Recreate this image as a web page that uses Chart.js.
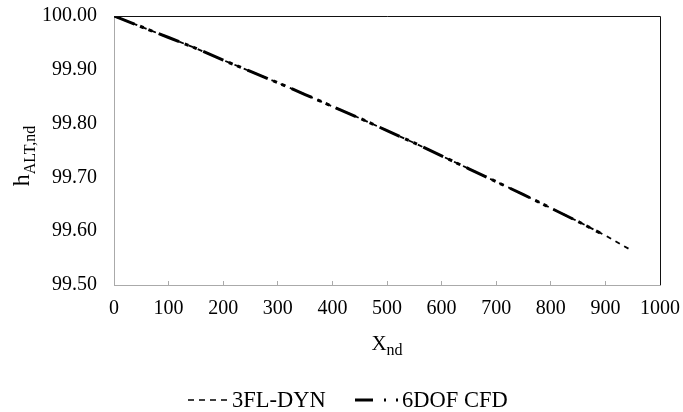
<!DOCTYPE html>
<html>
<head>
<meta charset="utf-8">
<script src="https://cdn.jsdelivr.net/npm/chart.js@4"></script>
<style>
  html, body { margin: 0; padding: 0; background: #fff; overflow: hidden; }
  canvas { display: block; }
</style>
</head>
<body>
<canvas id="chart" width="683" height="412"></canvas>
<script>
// values
const xDyn = [0, 50, 100, 150, 200, 250, 300, 350, 400, 450, 500, 550, 600, 650, 700, 750, 800, 850, 900, 945];
const hDyn = [100.000, 99.980, 99.960, 99.940, 99.918, 99.897, 99.876, 99.854, 99.832, 99.810,
              99.787, 99.764, 99.740, 99.716, 99.692, 99.668, 99.643, 99.618, 99.592, 99.566];
const xCfd = [0, 50, 100, 150, 200, 250, 300, 350, 400, 450, 500, 550, 600, 650, 700, 750, 800, 850, 890];
const hCfd = [100.000, 99.980, 99.960, 99.940, 99.918, 99.897, 99.876, 99.854, 99.832, 99.810,
              99.787, 99.764, 99.740, 99.716, 99.692, 99.668, 99.643, 99.618, 99.597];
const seriesNames = ['3FL-DYN', '6DOF CFD'];

const FONT = '"Liberation Serif", "Times New Roman", serif';
const dashDyn = [5, 5];
const dashCfd = [22, 6, 4, 5, 4, 7];

const toPoints = (xs, ys) => xs.map((x, i) => ({ x: x, y: ys[i] }));

// axis titles with subscripts, legend and frame, drawn on the canvas
const extras = {
  id: 'extras',
  afterDraw(chart) {
    const ctx = chart.ctx;
    const area = chart.chartArea;
    ctx.save();
    ctx.fillStyle = '#000';
    ctx.textBaseline = 'alphabetic';
    ctx.textAlign = 'left';

    // x title
    const cx = (area.left + area.right) / 2;
    ctx.font = '21px ' + FONT;
    const wX = ctx.measureText('X').width;
    ctx.font = '16px ' + FONT;
    const wNd = ctx.measureText('nd').width;
    let sx = cx - (wX + wNd) / 2;
    ctx.font = '21px ' + FONT;
    ctx.fillText('X', sx, 350);
    ctx.font = '16px ' + FONT;
    ctx.fillText('nd', sx + wX, 355);

    // y title (rotated)
    ctx.save();
    ctx.translate(29, 156);
    ctx.rotate(-Math.PI / 2);
    ctx.font = '24px ' + FONT;
    const wH = ctx.measureText('h').width;
    ctx.font = '16px ' + FONT;
    const wSub = ctx.measureText('ALT,nd').width;
    sx = -(wH + wSub) / 2;
    ctx.font = '24px ' + FONT;
    ctx.fillText('h', sx, 0);
    ctx.font = '16px ' + FONT;
    ctx.fillText('ALT,nd', sx + wH, 6);
    ctx.restore();

    // legend
    const ly = 400;
    ctx.strokeStyle = '#000';
    ctx.lineCap = 'butt';
    ctx.lineWidth = 1.5;
    ctx.setLineDash([6, 5]);
    ctx.beginPath();
    ctx.moveTo(188, ly); ctx.lineTo(227, ly);
    ctx.stroke();
    ctx.lineWidth = 3;
    ctx.setLineDash([18, 11, 2, 10, 2, 100]);
    ctx.beginPath();
    ctx.moveTo(355, ly); ctx.lineTo(398, ly);
    ctx.stroke();
    ctx.setLineDash([]);
    ctx.font = '22.5px ' + FONT;
    ctx.fillText(seriesNames[0], 232, 407);
    ctx.fillText(seriesNames[1], 402, 407);

    // top and right frame
    ctx.strokeStyle = '#111';
    ctx.lineWidth = 1;
    ctx.beginPath();
    ctx.moveTo(area.left, area.top + 0.5);
    ctx.lineTo(area.right + 0.5, area.top + 0.5);
    ctx.lineTo(area.right + 0.5, area.bottom);
    ctx.stroke();
    ctx.restore();
  }
};

new Chart(document.getElementById('chart').getContext('2d'), {
  type: 'scatter',
  data: {
    datasets: [
      {
        label: seriesNames[0],
        data: toPoints(xDyn, hDyn),
        showLine: true,
        borderColor: '#000',
        borderWidth: 1.8,
        borderDash: dashDyn,
        pointRadius: 0,
        tension: 0,
      },
      {
        label: seriesNames[1],
        data: toPoints(xCfd, hCfd),
        showLine: true,
        borderColor: '#000',
        borderWidth: 3,
        borderDash: dashCfd,
        pointRadius: 0,
        tension: 0,
      },
    ],
  },
  options: {
    responsive: false,
    animation: false,
    devicePixelRatio: 1,
    layout: { padding: { left: 0, top: 16, right: 23, bottom: 0 } },
    scales: {
      x: {
        type: 'linear',
        min: 0,
        max: 1000,
        afterFit: (scale) => {
          scale.height = 127;
          scale.paddingLeft = 0;
          scale.paddingRight = 0;
        },
        ticks: {
          stepSize: 100,
          padding: 16,
          color: '#000',
          font: { family: FONT, size: 20 },
          maxRotation: 0,
          autoSkip: false,
          callback: (v) => String(v),
        },
        grid: {
          display: true,
          drawOnChartArea: false,
          drawTicks: true,
          tickLength: -4,
          color: '#aaa',
        },
        border: { color: '#aaa', width: 1 },
      },
      y: {
        type: 'linear',
        min: 99.5,
        max: 100,
        afterFit: (scale) => {
          scale.width = 114;
          scale.paddingTop = 0;
          scale.paddingBottom = 0;
        },
        ticks: {
          stepSize: 0.1,
          padding: 17,
          color: '#000',
          font: { family: FONT, size: 20 },
          callback: (v) => v.toFixed(2),
        },
        grid: { display: false, drawTicks: false },
        border: { color: '#aaa', width: 1 },
      },
    },
    plugins: {
      legend: { display: false },
      tooltip: { enabled: false },
    },
  },
  plugins: [extras],
});
</script>
</body>
</html>
